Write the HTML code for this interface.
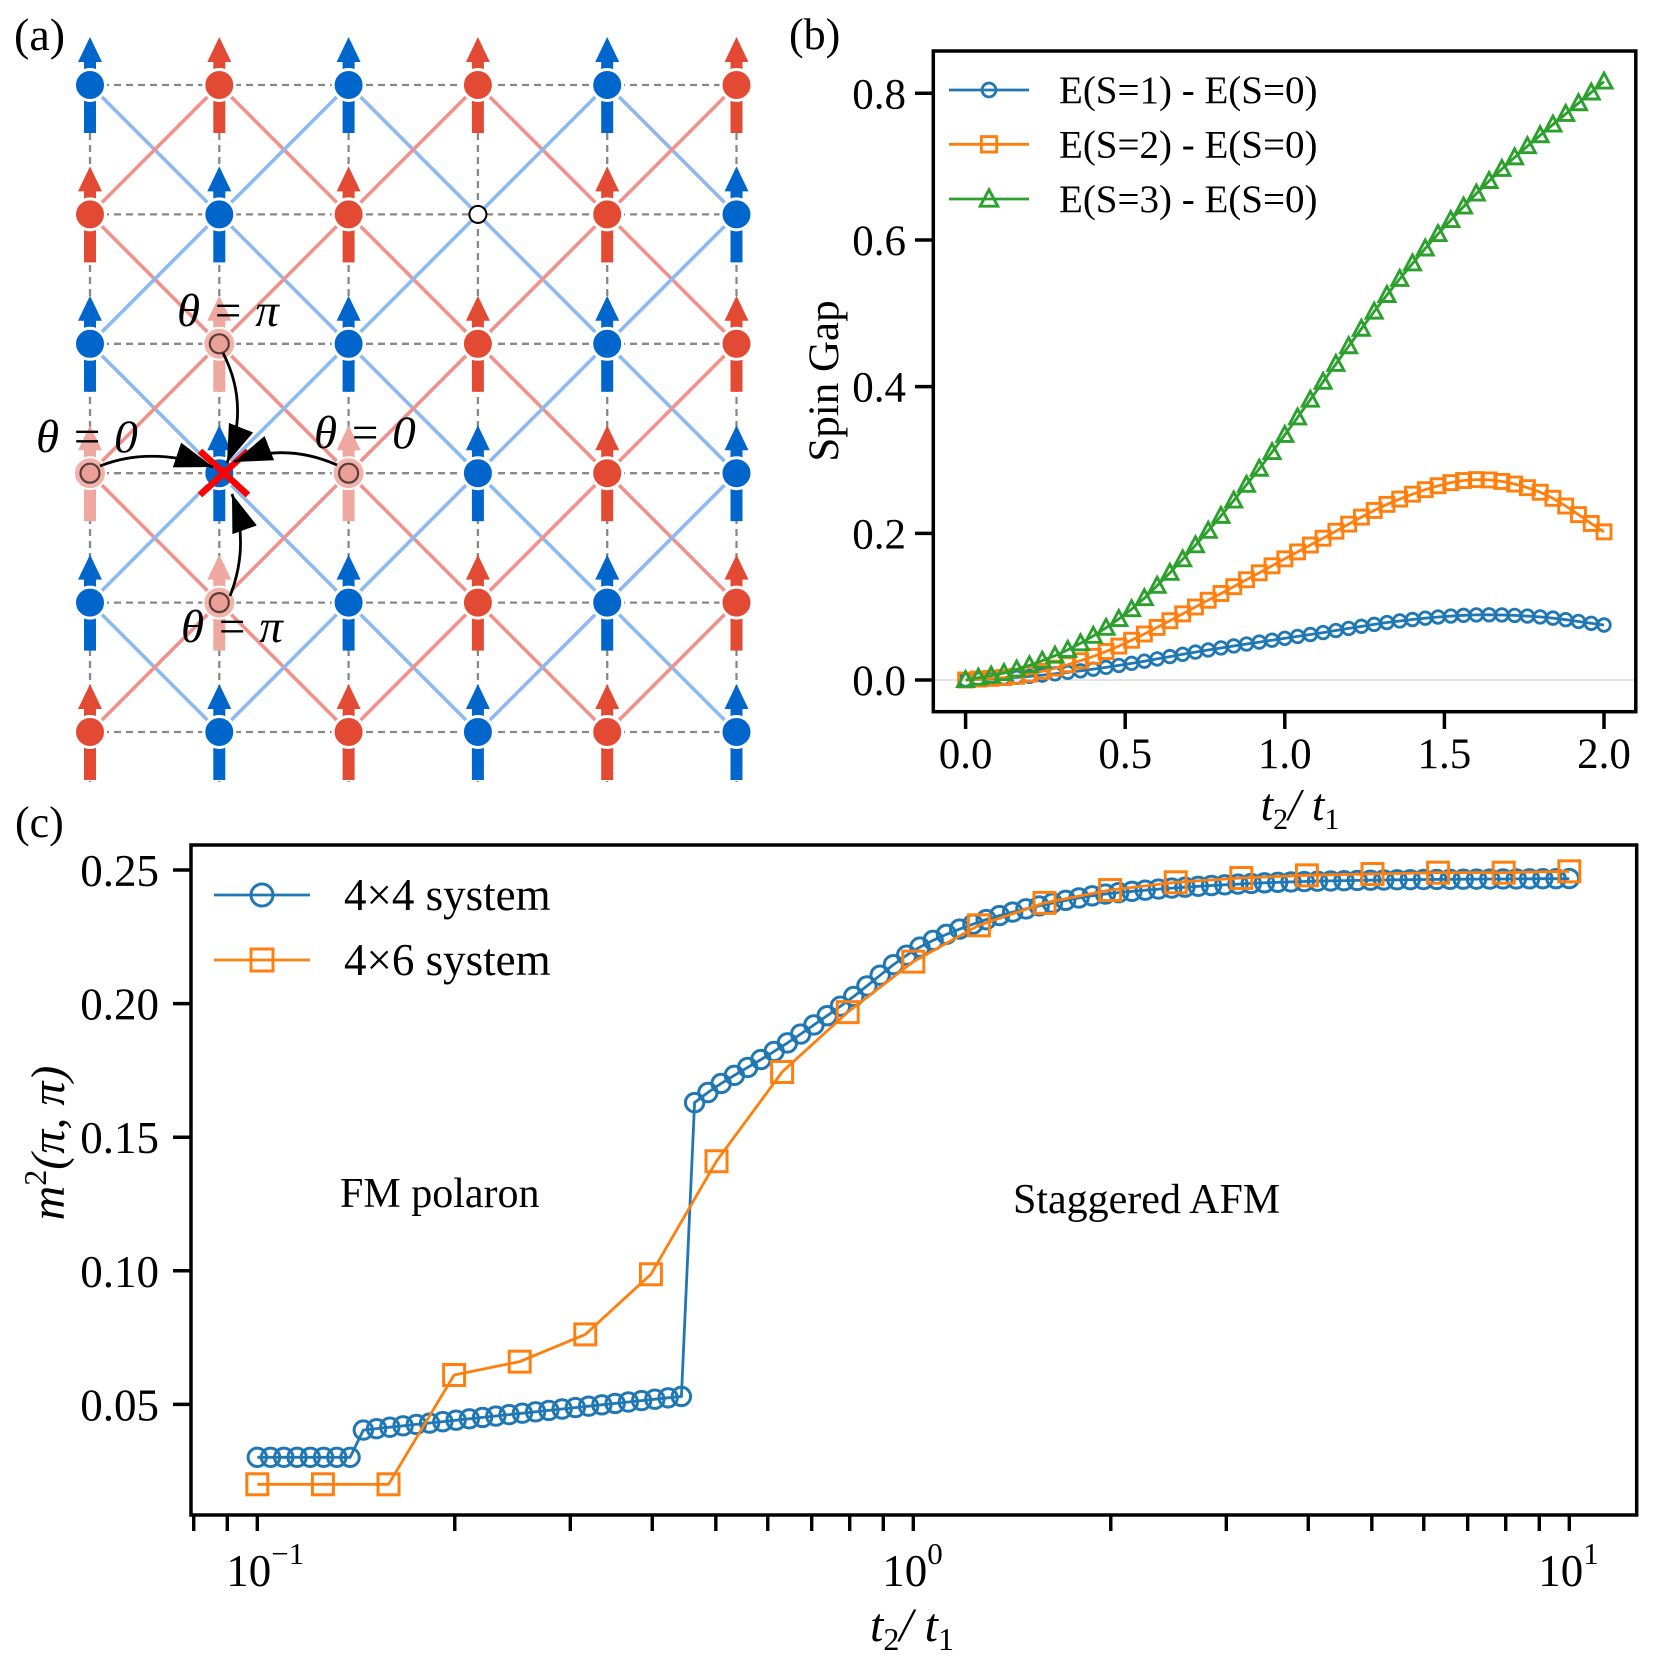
<!DOCTYPE html>
<html><head><meta charset="utf-8"><style>
html,body{margin:0;padding:0;background:#fff;}
svg{display:block;}
text{font-family:"Liberation Serif",serif;fill:#000;}
</style></head><body>
<svg id="s" xmlns="http://www.w3.org/2000/svg" width="1661" height="1668" viewBox="0 0 1661 1668">
<defs>
<marker id="ah" markerWidth="40" markerHeight="30" refX="38" refY="13" orient="auto" markerUnits="userSpaceOnUse">
<path d="M0,0 L38,13 L0,26 Z" fill="#000"/>
</marker>
</defs>
<rect width="1661" height="1668" fill="#fff"/>
<g id="ga"></g>
<g id="gb"></g>
<g id="gc"></g>
</svg>
<script>
const NS="http://www.w3.org/2000/svg";
function el(p,t,a,txt){const e=document.createElementNS(NS,t);for(const k in a)e.setAttribute(k,a[k]);if(txt!==undefined)e.textContent=txt;p.appendChild(e);return e;}
function interp(kn,x){for(let i=0;i<kn.length-1;i++){if(x<=kn[i+1][0]){const a=kn[i],b=kn[i+1];const f=(x-a[0])/(b[0]-a[0]);
  const p0=kn[Math.max(i-1,0)],p3=kn[Math.min(i+2,kn.length-1)];
  const h=b[0]-a[0];
  const m1=(b[1]-p0[1])/(b[0]-p0[0])*h, m2=(p3[1]-a[1])/(p3[0]-a[0])*h;
  const t=f,t2=t*t,t3=t2*t;
  return (2*t3-3*t2+1)*a[1]+(t3-2*t2+t)*m1+(-2*t3+3*t2)*b[1]+(t3-t2)*m2;}}return kn[kn.length-1][1];}

/* ---------- Panel (a) ---------- */
const ga=document.getElementById('ga');
el(ga,'text',{x:14,y:50,'font-size':46},'(a)');
const X=j=>90+129.3*j, Y=i=>85+129.4*i;
const BLUE='#0066cc',RED='#e34a33',LB='#8db9f0',LR='#f0928b',FADE='#eea89f';
for(let i=0;i<6;i++) el(ga,'line',{x1:X(0),y1:Y(i),x2:X(5),y2:Y(i),stroke:'#888','stroke-width':2.3,'stroke-dasharray':'7,5'});
for(let j=0;j<6;j++) el(ga,'line',{x1:X(j),y1:Y(0),x2:X(j),y2:Y(5)+50,stroke:'#888','stroke-width':2.3,'stroke-dasharray':'7,5'});
for(let i=0;i<5;i++)for(let j=0;j<6;j++){for(const d of[-1,1]){const jj=j+d;if(jj<0||jj>5)continue;
 const blue=((i+j)%2===0);el(ga,'line',{x1:X(j),y1:Y(i),x2:X(jj),y2:Y(i+1),stroke:blue?LB:LR,'stroke-width':3.6});}}
const faded={'2,1':1,'3,0':1,'3,2':1,'4,1':1};
for(let i=0;i<6;i++)for(let j=0;j<6;j++){
 const x=X(j),y=Y(i);const key=i+','+j;
 if(key==='1,3'){el(ga,'circle',{cx:x,cy:y,r:8.5,fill:'#fff',stroke:'#000','stroke-width':2});continue;}
 let c=((i+j)%2===0)?BLUE:RED;
 if(faded[key]){c=FADE;}
 el(ga,'rect',{x:x-6,y:y-26,width:12,height:74,fill:c});
 el(ga,'polygon',{points:`${x-12},${y-23} ${x+12},${y-23} ${x},${y-48}`,fill:c});
 if(faded[key]){
  el(ga,'circle',{cx:x,cy:y,r:16,fill:'#f2b3aa',stroke:'#fff','stroke-width':2});
  el(ga,'circle',{cx:x,cy:y,r:9.5,fill:'#eaa096',stroke:'#5a3c3c','stroke-width':2.2});
 } else {
  el(ga,'circle',{cx:x,cy:y,r:15.5,fill:c,stroke:'#fff','stroke-width':3});
 }
}
el(ga,'line',{x1:200,y1:451,x2:248,y2:495,stroke:'#ff0000','stroke-width':6.5});
el(ga,'line',{x1:200,y1:495,x2:248,y2:451,stroke:'#ff0000','stroke-width':6.5});
const arr=[ 'M100,466 Q150,446 213,467','M223,353 Q250,405 227,463','M337,465 Q285,442 234,462','M230,596 Q250,545 232,494'];
for(const d of arr) el(ga,'path',{d:d,fill:'none',stroke:'#000','stroke-width':2.8,'marker-end':'url(#ah)'});
const th=(x,y,s)=>{el(ga,'text',{x:x,y:y,'font-size':47,'font-style':'italic'},s);};
th(177,326,'θ = π');th(36,452,'θ = 0');th(314,448,'θ = 0');th(181,642,'θ = π');

/* ---------- Panel (b) ---------- */
const gb=document.getElementById('gb');
el(gb,'text',{x:789,y:49,'font-size':44},'(b)');
const bx=t=>965.6+319.2*t, by=v=>680-733.4*v;
el(gb,'line',{x1:933.3,y1:by(0),x2:1636,y2:by(0),stroke:'#e3e3e3','stroke-width':2});
const G=[[0,0],[0.158,0.014],[0.368,0.052],[0.578,0.119],[0.9,0.277],[1.34,0.536],[1.632,0.677],[2,0.816]];
const O=[[0,0],[0.2,0.008],[0.452,0.041],[0.761,0.109],[1.11,0.191],[1.35,0.245],[1.586,0.273],[1.8,0.256],[2,0.202]];
const B=[[0,0],[0.2,0.005],[0.452,0.018],[0.761,0.041],[1.11,0.064],[1.35,0.08],[1.586,0.0886],[1.8,0.086],[2,0.075]];
const ts=[];for(let k=0;k<=50;k++)ts.push(k*0.04);
function series(g,kn,col,mk){let d='';const pts=ts.map(t=>[bx(t),by(Math.max(0,interp(kn,t)))]);
 pts.forEach((p,i)=>d+=(i?'L':'M')+p[0].toFixed(1)+','+p[1].toFixed(1));
 el(g,'path',{d:d,fill:'none',stroke:col,'stroke-width':2.8});
 pts.forEach(p=>mark(g,p[0],p[1],col,mk,1));}
function mark(g,x,y,col,mk,sz){
 if(mk==='o') el(g,'circle',{cx:x,cy:y,r:6.3*sz,fill:'none',stroke:col,'stroke-width':2.8});
 if(mk==='s') el(g,'rect',{x:x-7*sz,y:y-7*sz,width:14*sz,height:14*sz,fill:'none',stroke:col,'stroke-width':2.9});
 if(mk==='^') el(g,'polygon',{points:`${x},${y-8.5*sz} ${x+8*sz},${y+6.5*sz} ${x-8*sz},${y+6.5*sz}`,fill:'none',stroke:col,'stroke-width':2.9});
}
series(gb,B,'#1f77b4','o');series(gb,O,'#ff7f0e','s');series(gb,G,'#2ca02c','^');
el(gb,'rect',{x:933.3,y:51,width:702.5,height:660.7,fill:'none',stroke:'#000','stroke-width':3.5});
for(let v=0;v<=0.81;v+=0.2){const y=by(v);el(gb,'line',{x1:915,y1:y,x2:933,y2:y,stroke:'#000','stroke-width':3.5});
 el(gb,'text',{x:906,y:y+15,'font-size':43,'text-anchor':'end'},v.toFixed(1));}
for(let t=0;t<=2.01;t+=0.5){const x=bx(t);el(gb,'line',{x1:x,y1:711.7,x2:x,y2:729,stroke:'#000','stroke-width':3.5});
 el(gb,'text',{x:x,y:768,'font-size':43,'text-anchor':'middle'},t.toFixed(1));}
const xl=el(gb,'text',{x:1300,y:820,'font-size':45,'text-anchor':'middle','font-style':'italic'});
xl.innerHTML='t<tspan font-size="30" dy="9" font-style="normal">2</tspan><tspan dy="-9">/ t</tspan><tspan font-size="30" dy="9" font-style="normal">1</tspan>';
el(gb,'text',{x:0,y:0,'font-size':43,'text-anchor':'middle',transform:'translate(838,381) rotate(-90)'},'Spin Gap');
const lg=[['#1f77b4','o','E(S=1) - E(S=0)',90],['#ff7f0e','s','E(S=2) - E(S=0)',144.3],['#2ca02c','^','E(S=3) - E(S=0)',199]];
for(const [c,m,s,y] of lg){el(gb,'line',{x1:949,y1:y,x2:1029,y2:y,stroke:c,'stroke-width':2.8});mark(gb,989,y,c,m,1.1);
 el(gb,'text',{x:1059,y:y+13,'font-size':39},s);}

/* ---------- Panel (c) ---------- */
const gc=document.getElementById('gc');
el(gc,'text',{x:15,y:837,'font-size':44},'(c)');
const cx=t=>913.3+656*Math.log10(t), cy=v=>870+(0.25-v)*2672;
const bl=[];for(let k=0;k<100;k++){const lt=-1+k*2/99;const t=Math.pow(10,lt);let v;
 if(k<=7)v=0.0302;else if(k<=32)v=0.0404+(k-8)/24*(0.053-0.0404);
 else v=interp([[-0.333,0.163],[-0.3,0.169],[-0.2,0.184],[-0.1,0.201],[0,0.2197],[0.1,0.2305],[0.2,0.237],[0.3,0.2412],[0.5,0.2448],[0.7,0.2462],[1.0,0.2468]],lt);
 bl.push([cx(t),cy(v)]);}
let d='';bl.forEach((p,i)=>d+=(i?'L':'M')+p[0].toFixed(1)+','+p[1].toFixed(1));
el(gc,'path',{d:d,fill:'none',stroke:'#1f77b4','stroke-width':2.8});
bl.forEach(p=>el(gc,'circle',{cx:p[0],cy:p[1],r:9.2,fill:'none',stroke:'#1f77b4','stroke-width':3}));
const ov=[0.0201,0.0201,0.0201,0.061,0.066,0.0762,0.0987,0.141,0.1744,0.1968,0.2157,0.2293,0.2377,0.2425,0.2454,0.247,0.248,0.2485,0.249,0.249,0.2495];
const op=ov.map((v,i)=>[cx(Math.pow(10,-1+i*0.1)),cy(v)]);
d='';op.forEach((p,i)=>d+=(i?'L':'M')+p[0].toFixed(1)+','+p[1].toFixed(1));
el(gc,'path',{d:d,fill:'none',stroke:'#ff7f0e','stroke-width':2.8});
op.forEach(p=>el(gc,'rect',{x:p[0]-10.5,y:p[1]-10.5,width:21,height:21,fill:'none',stroke:'#ff7f0e','stroke-width':3}));
el(gc,'rect',{x:191,y:845,width:1445.7,height:670,fill:'none',stroke:'#000','stroke-width':3.5});
for(const v of[0.05,0.10,0.15,0.20,0.25]){const y=cy(v);el(gc,'line',{x1:173,y1:y,x2:191,y2:y,stroke:'#000','stroke-width':3.5});
 el(gc,'text',{x:159,y:y+16,'font-size':45,'text-anchor':'end'},v.toFixed(2));}
const minor=[0.08,0.09];for(let e=-1;e<=1;e++)for(let m=1;m<=9;m++){const t=m*Math.pow(10,e);if(t<=12.6)minor.push(t);}
for(const t of minor){const x=cx(t);el(gc,'line',{x1:x,y1:1515,x2:x,y2:1531,stroke:'#000','stroke-width':3.4});}
for(const [e,s] of [[-1,'−1'],[0,'0'],[1,'1']]){const x=cx(Math.pow(10,e));
 const t=el(gc,'text',{x:x-31,y:1586,'font-size':45});t.innerHTML='10<tspan font-size="31" dy="-22">'+s+'</tspan>';}
const xl2=el(gc,'text',{x:912,y:1641,'font-size':48,'text-anchor':'middle','font-style':'italic'});
xl2.innerHTML='t<tspan font-size="32" dy="9" font-style="normal">2</tspan><tspan dy="-9">/ t</tspan><tspan font-size="32" dy="9" font-style="normal">1</tspan>';
const yl=el(gc,'text',{x:0,y:0,'font-size':48,'text-anchor':'middle','font-style':'italic',transform:'translate(64,1143) rotate(-90)'});
yl.innerHTML='m<tspan font-size="32" dy="-18" font-style="normal">2</tspan><tspan dy="18">(π, π)</tspan>';
el(gc,'line',{x1:214,y1:895,x2:310,y2:895,stroke:'#1f77b4','stroke-width':2.8});
el(gc,'circle',{cx:262,cy:895,r:11,fill:'none',stroke:'#1f77b4','stroke-width':3});
el(gc,'text',{x:344,y:910,'font-size':45},'4×4 system');
el(gc,'line',{x1:214,y1:960,x2:310,y2:960,stroke:'#ff7f0e','stroke-width':2.8});
el(gc,'rect',{x:251,y:949,width:22,height:22,fill:'none',stroke:'#ff7f0e','stroke-width':3});
el(gc,'text',{x:344,y:975,'font-size':45},'4×6 system');
el(gc,'text',{x:340,y:1207,'font-size':42},'FM polaron');
el(gc,'text',{x:1013,y:1213,'font-size':42},'Staggered AFM');
</script>
</body></html>
